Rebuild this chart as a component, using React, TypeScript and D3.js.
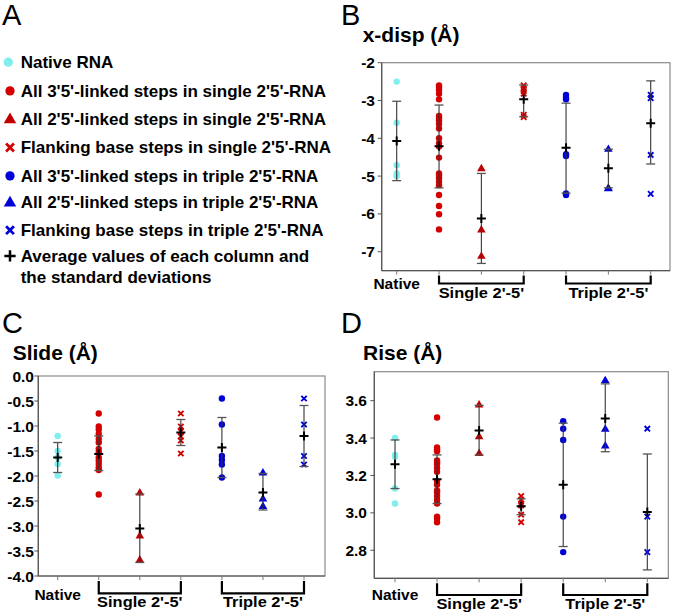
import React from 'react';
import * as d3 from 'd3';

// ---------- categories / labels ----------
const columnKeys = ['native', 's35', 's25', 'sflank', 't35', 't25', 'tflank'];
const groupLabels = ['Native', "Single 2'-5'", "Triple 2'-5'"];
const legendLabels = [
  'Native RNA',
  "All 3'5'-linked steps in single 2'5'-RNA",
  "All 2'5'-linked steps in single 2'5'-RNA",
  "Flanking base steps in single 2'5'-RNA",
  "All 3'5'-linked steps in triple 2'5'-RNA",
  "All 2'5'-linked steps in triple 2'5'-RNA",
  "Flanking base steps in triple 2'5'-RNA",
  'Average values of each column and',
  'the standard deviations',
];
const panelLetters = ['A', 'B', 'C', 'D'];
const panelTitles = ['x-disp (Å)', 'Slide (Å)', 'Rise (Å)'];

// ---------- x-disp ----------
const xdispNative = [-2.5, -3.59, -4.71, -4.93, -5.0];
const xdispSingle35 = [-2.6, -2.66, -2.72, -2.82, -2.97, -3.41, -3.47, -3.53, -3.62, -3.74, -4.0, -4.13, -4.22, -4.51, -4.93, -4.99, -5.06, -5.15, -5.24, -5.5, -5.79, -6.01, -6.41];
const xdispSingle25 = [-4.79, -6.41, -7.11];
const xdispSingleFlank = [-2.6, -2.68, -2.75, -2.82, -3.38, -3.44];
const xdispTriple35 = [-2.85, -2.92, -2.97, -4.42, -4.47, -5.46, -5.5];
const xdispTriple25 = [-4.28, -5.31, -5.32];
const xdispTripleFlank = [-2.85, -2.94, -4.44, -5.47];
const xdispMean = [-4.07, -4.21, -6.12, -2.97, -4.25, -4.79, -3.6];
const xdispHi = [-3.02, -3.12, -4.93, -2.59, -3.07, -4.29, -2.48];
const xdispLo = [-5.12, -5.31, -7.31, -3.43, -5.45, -5.31, -4.68];

// ---------- Slide ----------
const slideNative = [-1.2, -1.5, -1.63, -1.76, -1.99];
const slideSingle35 = [-0.75, -1.01, -1.07, -1.16, -1.26, -1.33, -1.46, -1.53, -1.63, -1.69, -1.76, -1.83, -1.88, -2.37];
const slideSingle25 = [-2.33, -3.19, -3.67];
const slideSingleFlank = [-0.75, -1.01, -1.11, -1.21, -1.29, -1.55];
const slideTriple35 = [-0.45, -0.97, -1.6, -1.68, -1.77, -2.03];
const slideTriple25 = [-1.93, -2.45, -2.6];
const slideTripleFlank = [-0.45, -0.97, -1.6, -1.77];
const slideMean = [-1.63, -1.56, -3.05, -1.13, -1.43, -2.33, -1.2];
const slideHi = [-1.33, -1.2, -2.36, -0.87, -0.83, -1.95, -0.59];
const slideLo = [-1.93, -1.89, -3.73, -1.39, -2.03, -2.68, -1.81];

// ---------- Rise ----------
const riseNative = [3.4, 3.31, 3.3, 3.13, 3.05];
const riseSingle35 = [3.51, 3.35, 3.34, 3.33, 3.28, 3.27, 3.26, 3.24, 3.22, 3.17, 3.15, 3.12, 3.11, 3.09, 3.07, 3.05, 2.98, 2.97, 2.95];
const riseSingle25 = [3.58, 3.41, 3.32];
const riseSingleFlank = [3.09, 3.07, 3.05, 3.04, 2.99, 2.95];
const riseTriple35 = [3.49, 3.45, 3.39, 2.98, 2.79];
const riseTriple25 = [3.71, 3.45, 3.36];
const riseTripleFlank = [3.45, 2.98, 2.79];
const riseMean = [3.26, 3.18, 3.44, 3.035, 3.15, 3.505, 3.005];
const riseHi = [3.39, 3.31, 3.575, 3.075, 3.48, 3.69, 3.315];
const riseLo = [3.13, 3.05, 3.31, 2.99, 2.82, 3.327, 2.695];

const xdispTicks = [-2, -3, -4, -5, -6, -7];
const slideTicks = [0, -0.5, -1, -1.5, -2, -2.5, -3, -3.5, -4];
const riseTicks = [2.8, 3.0, 3.2, 3.4, 3.6];

// ---------- styles ----------
const FONT = '"Liberation Sans", Arial, Helvetica, sans-serif';
const CYAN = '#80eeee';
const RED = '#d40000';
const DRED = '#c00000';
const BLUE = '#0000d8';
const markerSpec = [
  { shape: 'circle', color: CYAN },
  { shape: 'circle', color: RED },
  { shape: 'triangle', color: DRED },
  { shape: 'cross', color: RED },
  { shape: 'circle', color: BLUE },
  { shape: 'triangle', color: BLUE },
  { shape: 'cross', color: BLUE },
];

function Marker({ shape, color, x, y, s = 1 }: any) {
  if (shape === 'circle') return <circle cx={x} cy={y} r={3.2 * s} fill={color} />;
  if (shape === 'triangle') {
    const p = d3.symbol().type(d3.symbolTriangle).size(32 * s * s)();
    return <path d={p as string} transform={`translate(${x},${y + 0.5})`} fill={color} />;
  }
  if (shape === 'cross') {
    const r = 2.7 * s;
    return (
      <path d={`M${x - r},${y - r}L${x + r},${y + r}M${x - r},${y + r}L${x + r},${y - r}`} stroke={color} strokeWidth={1.9 * s} fill="none" />
    );
  }
  // plus
  const r = 4.5 * s;
  return <path d={`M${x - r},${y}L${x + r},${y}M${x},${y - r}L${x},${y + r}`} stroke="#000" strokeWidth={2 * s} fill="none" />;
}

function Panel({ geo, title, series, mean, hi, lo, ticks, domain, fmt }: any) {
  const { left, right, top, bottom, c1, c7, titleX, titleY, axisLblY, bracketY, grpY, tickX } = geo;
  const x = d3.scaleLinear().domain([1, 7]).range([c1, c7]);
  const y = d3.scaleLinear().domain(domain).range([bottom, top]);
  const grpStyle = { fontFamily: FONT, fontWeight: 'bold' as const, fontSize: 15.5 };
  return (
    <g>
      <text x={titleX} y={titleY} fontFamily={FONT} fontWeight="bold" fontSize={21}>{title}</text>
      <rect x={left} y={top} width={right - left} height={bottom - top} fill="#fff" stroke="#8a8a8a" strokeWidth={1.2} />
      <line x1={left} x2={left} y1={top} y2={bottom} stroke="#555" strokeWidth={1.2} />
      <line x1={left} x2={right} y1={bottom} y2={bottom} stroke="#555" strokeWidth={1.2} />
      {ticks.map((t: number) => (
        <g key={t}>
          <line x1={left - 4} x2={left} y1={y(t)} y2={y(t)} stroke="#555" />
          <text x={tickX} y={y(t)} dy="0.36em" textAnchor="end" fontFamily={FONT} fontWeight="bold" fontSize={15.5}>{fmt(t)}</text>
        </g>
      ))}
      {columnKeys.map((k, i) => (
        <line key={k} x1={x(i + 1)} x2={x(i + 1)} y1={bottom} y2={bottom + 4} stroke="#777" />
      ))}
      {/* brackets */}
      {[[2, 4], [5, 7]].map(([a, b]) => (
        <path key={a} d={`M${x(a)},${bottom + 5}V${bracketY}H${x(b)}V${bottom + 5}`} stroke="#000" strokeWidth={2.2} fill="none" />
      ))}
      <text x={x(1)} y={axisLblY} textAnchor="middle" {...grpStyle}>{groupLabels[0]}</text>
      <text x={x(3)} y={grpY} textAnchor="middle" {...grpStyle} transform={`translate(${x(3)},0) scale(1.06,1) translate(${-x(3)},0)`}>{groupLabels[1]}</text>
      <text x={x(6)} y={grpY} textAnchor="middle" {...grpStyle} transform={`translate(${x(6)},0) scale(1.06,1) translate(${-x(6)},0)`}>{groupLabels[2]}</text>
      {/* points */}
      {series.map((vals: number[], i: number) =>
        vals.map((v, j) => <Marker key={`${i}-${j}`} shape={markerSpec[i].shape} color={markerSpec[i].color} x={x(i + 1)} y={y(v)} />)
      )}
      {/* error bars */}
      {mean.map((m: number, i: number) => (
        <g key={`e${i}`}>
          <line x1={x(i + 1)} x2={x(i + 1)} y1={y(hi[i])} y2={y(lo[i])} stroke="#333" strokeWidth={1.1} />
          <line x1={x(i + 1) - 4.5} x2={x(i + 1) + 4.5} y1={y(hi[i])} y2={y(hi[i])} stroke="#555" strokeWidth={1.3} />
          <line x1={x(i + 1) - 4.5} x2={x(i + 1) + 4.5} y1={y(lo[i])} y2={y(lo[i])} stroke="#555" strokeWidth={1.3} />
          <Marker shape="plus" x={x(i + 1)} y={y(m)} />
        </g>
      ))}
    </g>
  );
}

export default function App() {
  const f0 = (v: number) => v.toFixed(0);
  const f1 = (v: number) => v.toFixed(1);
  const legendY = [68, 96.7, 125, 153.3, 181.7, 208.3, 236, 261.7];
  return (
    <svg width={676} height={615} style={{ position: 'absolute', left: 0, top: 0, background: '#fff' }}>
      <rect width={676} height={615} fill="#fff" />
      {/* panel letters */}
      <text x={2} y={25} fontFamily={FONT} fontSize={29}>{panelLetters[0]}</text>
      <text x={341} y={25} fontFamily={FONT} fontSize={29}>{panelLetters[1]}</text>
      <text x={2} y={333} fontFamily={FONT} fontSize={29}>{panelLetters[2]}</text>
      <text x={341} y={333} fontFamily={FONT} fontSize={29}>{panelLetters[3]}</text>

      {/* legend */}
      {markerSpec.map((m, i) => (
        <Marker key={i} shape={m.shape} color={m.color} x={i === 0 ? 8.3 : 10} y={legendY[i] - 5.8} s={1.45} />
      ))}
      <Marker shape="plus" x={10} y={legendY[7] - 5.8} s={1.25} />
      {legendLabels.map((l, i) => (
        <text key={l} x={20.7} y={i < 8 ? legendY[i] : 282.7} fontFamily={FONT} fontWeight="bold" fontSize={17}>{l}</text>
      ))}

      <Panel
        geo={{ left: 381.7, right: 670, top: 62.7, bottom: 270.6, c1: 396.7, c7: 650.7, titleX: 362.7, titleY: 42, axisLblY: 289, bracketY: 283.5, grpY: 298, tickX: 375 }}
        title={panelTitles[0]}
        series={[xdispNative, xdispSingle35, xdispSingle25, xdispSingleFlank, xdispTriple35, xdispTriple25, xdispTripleFlank]}
        mean={xdispMean} hi={xdispHi} lo={xdispLo}
        ticks={xdispTicks} domain={[-7.5, -2]} fmt={f0}
      />
      <Panel
        geo={{ left: 38.3, right: 325, top: 376, bottom: 576, c1: 57.7, c7: 304, titleX: 12.7, titleY: 359.5, axisLblY: 599.5, bracketY: 593.3, grpY: 607, tickX: 34 }}
        title={panelTitles[1]}
        series={[slideNative, slideSingle35, slideSingle25, slideSingleFlank, slideTriple35, slideTriple25, slideTripleFlank]}
        mean={slideMean} hi={slideHi} lo={slideLo}
        ticks={slideTicks} domain={[-4, 0]} fmt={f1}
      />
      <Panel
        geo={{ left: 374.3, right: 668.3, top: 371.7, bottom: 578.3, c1: 395, c7: 647.3, titleX: 363, titleY: 360, axisLblY: 599.5, bracketY: 595, grpY: 609, tickX: 367 }}
        title={panelTitles[2]}
        series={[riseNative, riseSingle35, riseSingle25, riseSingleFlank, riseTriple35, riseTriple25, riseTripleFlank]}
        mean={riseMean} hi={riseHi} lo={riseLo}
        ticks={riseTicks} domain={[2.65, 3.755]} fmt={f1}
      />
    </svg>
  );
}
